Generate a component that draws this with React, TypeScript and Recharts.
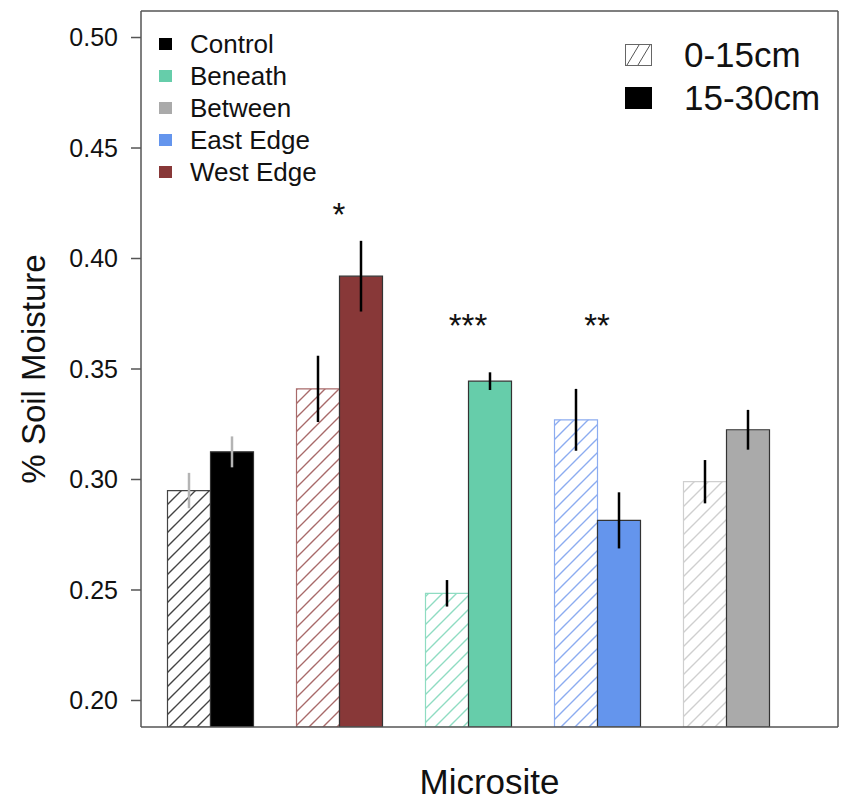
import {
  BarChart,
  Bar,
  XAxis,
  YAxis,
  Cell,
  ErrorBar,
  ReferenceDot,
  Legend,
  Label,
} from "recharts";

// microsites in plotting order
const sites = ["Control", "West Edge", "Beneath", "East Edge", "Between"];
// 0-15cm (hatched) and 15-30cm (solid) means
const shallow = [0.295, 0.341, 0.2485, 0.327, 0.299];
const deep = [0.3125, 0.392, 0.3445, 0.2815, 0.3225];
// standard errors
const shallowErr = [0.008, 0.015, 0.006, 0.014, 0.0098];
const deepErr = [0.007, 0.016, 0.004, 0.0127, 0.009];
// significance marks and where they sit
const stars = ["", "*", "***", "**", ""];
const starY = [0, 0.42, 0.37, 0.37, 0];
const yTicks = [0.2, 0.25, 0.3, 0.35, 0.4, 0.45, 0.5];

const legendSites = ["Control", "Beneath", "Between", "East Edge", "West Edge"];
const depths = ["0-15cm", "15-30cm"];

const siteColor: Record<string, string> = {
  Control: "#000000",
  "West Edge": "#883838",
  Beneath: "#66cdaa",
  "East Edge": "#6495ed",
  Between: "#aaaaaa",
};
const hatchColor: Record<string, string> = {
  Control: "#444444",
  "West Edge": "#a86a6a",
  Beneath: "#8fdcc2",
  "East Edge": "#8cacf0",
  Between: "#cfcfcf",
};
// control error bars are drawn in grey
const greyErr = ["Control"];

const data = sites.map((site, i) => {
  const grey = greyErr.includes(site);
  return {
    site,
    shallow: shallow[i],
    deep: deep[i],
    shallowErrK: grey ? null : shallowErr[i],
    shallowErrG: grey ? shallowErr[i] : null,
    deepErrK: grey ? null : deepErr[i],
    deepErrG: grey ? deepErr[i] : null,
  };
});

const FONT = '"Liberation Sans", Arial, sans-serif';

function HatchSwatch() {
  return (
    <svg width={27} height={22} style={{ display: "block" }}>
      <rect x={0.5} y={0.5} width={26} height={21} fill="white" stroke="#666" />
      <path d="M2,21 L14,1 M13,21 L25,1" stroke="#555" strokeWidth={1} />
    </svg>
  );
}

function Legends() {
  return (
    <div style={{ position: "absolute", left: 0, top: 0, fontFamily: FONT, color: "#111" }}>
      {legendSites.map((s, i) => (
        <div
          key={s}
          style={{
            position: "absolute",
            left: 159,
            top: 44 + i * 32 - 16,
            height: 32,
            display: "flex",
            alignItems: "center",
            whiteSpace: "nowrap",
          }}
        >
          <span style={{ width: 13, height: 12, background: siteColor[s], display: "inline-block" }} />
          <span style={{ marginLeft: 18, fontSize: 26 }}>{s}</span>
        </div>
      ))}
      {depths.map((d, i) => (
        <div
          key={d}
          style={{
            position: "absolute",
            left: 625,
            top: 55 + i * 43 - 20,
            height: 40,
            display: "flex",
            alignItems: "center",
            whiteSpace: "nowrap",
          }}
        >
          {i === 0 ? (
            <HatchSwatch />
          ) : (
            <span style={{ width: 27, height: 22, background: "#000", display: "inline-block" }} />
          )}
          <span style={{ marginLeft: 32, fontSize: 35 }}>{d}</span>
        </div>
      ))}
    </div>
  );
}

export default function App() {
  return (
    <div
      style={{
        position: "absolute",
        left: 0,
        top: 0,
        width: 841,
        height: 805,
        background: "white",
        fontFamily: FONT,
      }}
    >
      <BarChart
        width={841}
        height={805}
        data={data}
        margin={{ top: 10, right: 2, left: 0, bottom: 0 }}
        barGap={0}
        barSize={43}
      >
        <defs>
          {sites.map((s, i) => (
            <pattern
              key={s}
              id={`hatch-${i}`}
              patternUnits="userSpaceOnUse"
              width={14}
              height={14}
            >
              <path
                d="M-2,2 L2,-2 M0,14 L14,0 M12,16 L16,12"
                stroke={hatchColor[s]}
                strokeWidth={1.4}
              />
            </pattern>
          ))}
        </defs>
        <XAxis
          dataKey="site"
          tick={false}
          tickLine={false}
          axisLine={{ stroke: "#555", strokeWidth: 1.5 }}
          height={78}
          padding={{ left: 4.5, right: 47.5 }}
        >
          <Label
            value="Microsite"
            position="insideBottom"
            offset={11}
            style={{ fontSize: 35, fill: "#111" }}
          />
        </XAxis>
        <XAxis
          xAxisId="top"
          orientation="top"
          dataKey="site"
          tick={false}
          tickLine={false}
          height={1}
          axisLine={{ stroke: "#555", strokeWidth: 1.5 }}
        />
        <YAxis
          domain={[0.188, 0.512]}
          allowDataOverflow
          ticks={yTicks}
          interval={0}
          width={141}
          tickSize={10}
          tickMargin={13}
          tickFormatter={(v: number) => v.toFixed(2)}
          tick={{ fontSize: 25, fill: "#111" }}
          tickLine={{ stroke: "#555", strokeWidth: 1.5 }}
          axisLine={{ stroke: "#555", strokeWidth: 1.5 }}
        >
          <Label
            value="% Soil Moisture"
            angle={-90}
            position="insideLeft"
            offset={33}
            style={{ fontSize: 33, fill: "#111", textAnchor: "middle" }}
          />
        </YAxis>
        <YAxis
          yAxisId="right"
          orientation="right"
          domain={[0.188, 0.512]}
          allowDataOverflow
          width={1}
          tick={false}
          tickLine={false}
          axisLine={{ stroke: "#555", strokeWidth: 1.5 }}
        />
        <Legend
          content={() => <Legends />}
          wrapperStyle={{ position: "absolute", left: 0, top: 0, width: 0, height: 0, overflow: "visible" }}
        />
        <Bar dataKey="shallow" isAnimationActive={false}>
          {sites.map((s, i) => (
            <Cell key={s} fill={`url(#hatch-${i})`} stroke={hatchColor[s]} strokeWidth={1.2} />
          ))}
          <ErrorBar dataKey="shallowErrK" width={0} stroke="#000" strokeWidth={2.5} />
          <ErrorBar dataKey="shallowErrG" width={0} stroke="#b4b4b4" strokeWidth={2.5} />
        </Bar>
        <Bar dataKey="deep" isAnimationActive={false}>
          {sites.map((s) => (
            <Cell key={s} fill={siteColor[s]} stroke="#333" strokeWidth={1.2} />
          ))}
          <ErrorBar dataKey="deepErrK" width={0} stroke="#000" strokeWidth={2.5} />
          <ErrorBar dataKey="deepErrG" width={0} stroke="#b4b4b4" strokeWidth={2.5} />
        </Bar>
        {sites.map((s, i) =>
          stars[i] ? (
            <ReferenceDot
              key={s}
              x={s}
              y={starY[i]}
              r={0}
              fill="none"
              stroke="none"
              label={{ value: stars[i], position: "center", fontSize: 33, fill: "#111" }}
            />
          ) : null
        )}
      </BarChart>
    </div>
  );
}
